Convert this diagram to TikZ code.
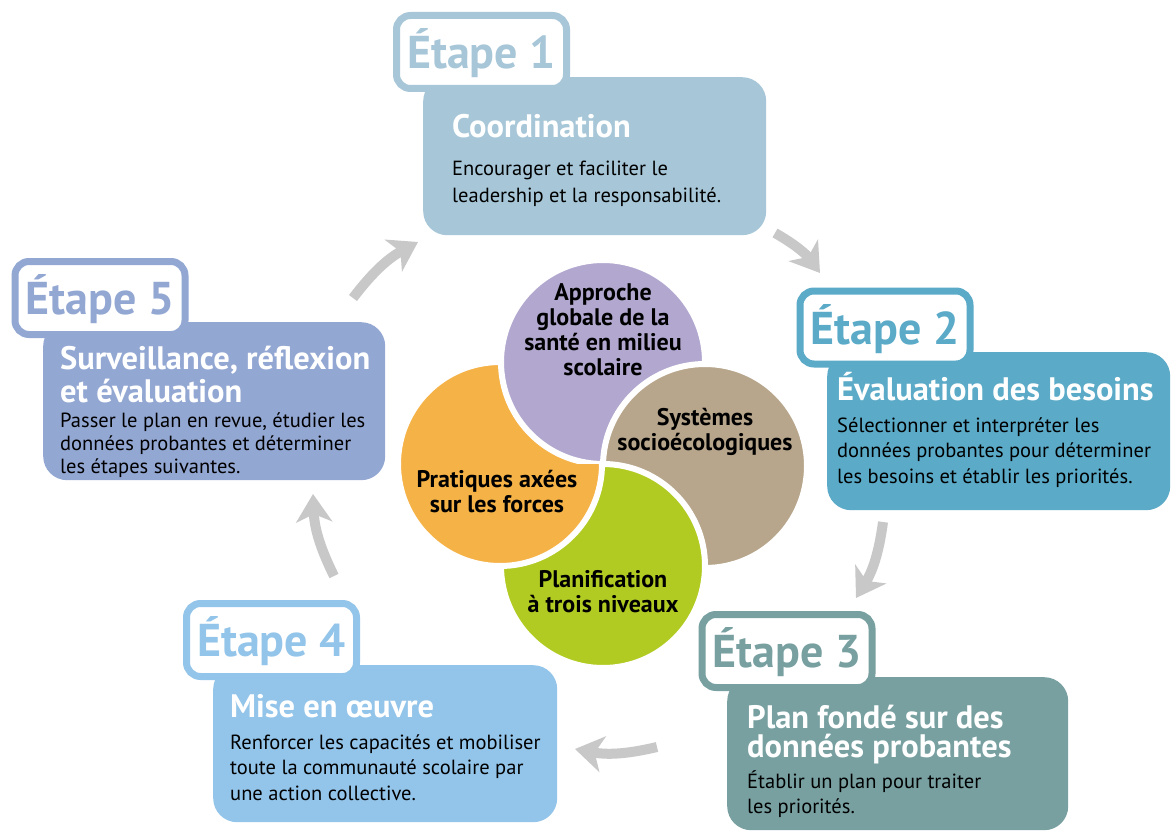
\documentclass[tikz,border=0pt]{standalone}
\usepackage{fontspec}
\setmainfont{PT Sans}
\usetikzlibrary{arrows.meta}
\definecolor{StepOne}{HTML}{A7C7D8}
\definecolor{StepTwo}{HTML}{5AAAC8}
\definecolor{StepThree}{HTML}{78A0A1}
\definecolor{StepFour}{HTML}{93C4E9}
\definecolor{StepFive}{HTML}{93A7D3}
\definecolor{Lilac}{HTML}{B2A8CF}
\definecolor{Amber}{HTML}{F5B247}
\definecolor{Taupe}{HTML}{B8A68C}
\definecolor{Lime}{HTML}{B2CB22}
\definecolor{Cycle}{HTML}{C8C8C8}

\begin{document}
\begin{tikzpicture}[
        x=1pt, y=1pt,
        card/.style={fill=#1, rounded corners=24pt, anchor=north west, inner sep=0pt},
        tab/.style={draw=#1, fill=white, line width=7pt, rounded corners=14pt,
                    minimum width=170pt, minimum height=73pt, inner sep=0pt, text=#1,
                    font=\fontsize{46}{46}\selectfont\bfseries, text height=33pt, text depth=0pt},
        head/.style={anchor=base west, align=left, inner sep=0pt, text=white,
                     font=\fontsize{32.5}{#1}\selectfont\bfseries},
        head/.default=30,
        desc/.style={anchor=base west, align=left, inner sep=0pt,
                     font=\fontsize{20.5}{#1}\selectfont},
        desc/.default=25,
        blob/.style={circle, fill=#1, draw=white, line width=6pt, minimum size=204pt, inner sep=0pt},
        tag/.style={anchor=base, align=center, inner sep=0pt, font=\fontsize{24}{25}\selectfont\bfseries},
        link/.style={-{Stealth[length=28pt, width=36pt, inset=8pt]}, Cycle, line width=10pt, bend left=12},
      ]
        \useasboundingbox[fill=white] (0,0) rectangle (1173,-832);
        % centre
        \node[blob=Amber] (strength) at (500,-464) {};
        \node[blob=Lilac] (global)   at (603,-362) {};
        \node[blob=Taupe] (systems)  at (705,-466) {};
        \node[blob=Lime]  (levels)   at (603,-566) {};
        \begin{scope}
          \clip (380,-464) rectangle (620,-600);
          \path[fill=Amber, draw=white, line width=6pt] (strength.center) circle[radius=102pt];
        \end{scope}
        \node[tag] (globaltxt) at (603,-375) {Approche\\globale de la\\santé en milieu\\scolaire};
        \node[tag] (systxt)    at (705,-450) {Systèmes\\socioécologiques};
        \node[tag] (strtxt)    at (497,-512) {Pratiques axées\\sur les forces};
        \node[tag] (lvltxt)    at (603,-612) {Planification\\à trois niveaux};
        % etapes
        \node[card=StepOne, minimum width=343pt, minimum height=158pt] (card1) at (423,-77) {};
        \node[tab=StepOne] (tab1) at (481.5,-52) {Étape 1};
        \node[head] (head1) at (452,-138) {Coordination};
        \node[desc=27] (desc1) at (452,-202) {Encourager et faciliter le\\leadership et la responsabilité.};

        \node[card=StepTwo, minimum width=343pt, minimum height=158pt] (card2) at (827,-352) {};
        \node[tab=StepTwo] (tab2) at (885,-327.5) {Étape 2};
        \node[head] (head2) at (837,-400) {Évaluation des besoins};
        \node[desc=25.5] (desc2) at (837,-483) {Sélectionner et interpréter les\\données probantes pour déterminer\\les besoins et établir les priorités.};

        \node[card=StepThree, minimum width=341pt, minimum height=153pt] (card3) at (727,-677) {};
        \node[tab=StepThree] (tab3) at (787,-651) {Étape 3};
        \node[head=29] (head3) at (747,-757) {Plan fondé sur des\\données probantes};
        \node[desc=25] (desc3) at (747,-813) {Établir un plan pour traiter\\les priorités.};

        \node[card=StepFour, minimum width=344pt, minimum height=157pt] (card4) at (213,-665) {};
        \node[tab=StepFour] (tab4) at (271.5,-640) {Étape 4};
        \node[head] (head4) at (230,-717) {Mise en œuvre};
        \node[desc=25.5] (desc4) at (230,-800) {Renforcer les capacités et mobiliser\\toute la communauté scolaire par\\une action collective.};

        \node[card=StepFive, minimum width=342pt, minimum height=158pt] (card5) at (43,-322) {};
        \node[tab=StepFive] (tab5) at (100,-298) {Étape 5};
        \node[head=33] (head5) at (60,-402) {Surveillance, réflexion\\et évaluation};
        \node[desc=23] (desc5) at (60,-473) {Passer le plan en revue, étudier les\\données probantes et déterminer\\les étapes suivantes.};
        % fleches
        \coordinate (s51) at (353,-298);  \coordinate (e51) at (418,-242);
        \coordinate (s12) at (775,-233);  \coordinate (e12) at (820,-273);
        \coordinate (s23) at (883,-522);  \coordinate (e23) at (856,-598);
        \coordinate (s34) at (657,-747);  \coordinate (e34) at (575,-749);
        \coordinate (s45) at (334,-576);  \coordinate (e45) at (313,-494);
        \draw[link] (s51) to (e51);
        \draw[link] (s12) to (e12);
        \draw[link] (s23) to (e23);
        \draw[link] (s34) to (e34);
        \draw[link] (s45) to (e45);
      \end{tikzpicture}
\end{document}
